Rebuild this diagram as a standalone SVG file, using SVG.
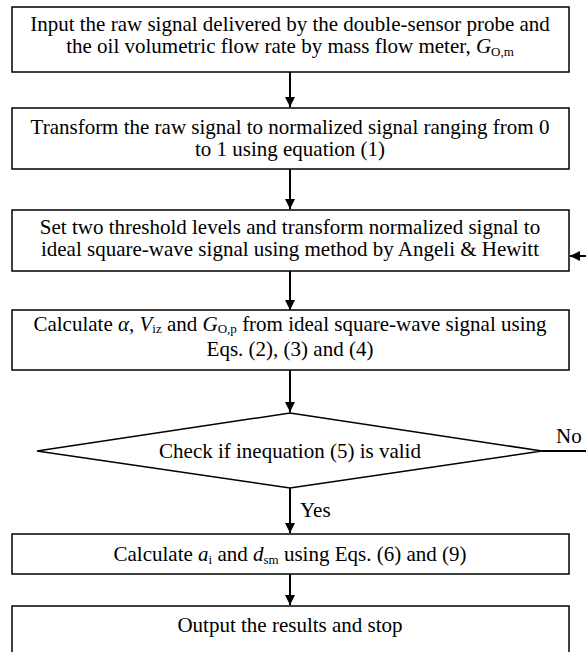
<svg xmlns="http://www.w3.org/2000/svg" width="586" height="652" viewBox="0 0 586 652">
<style>
.box{fill:#fff;stroke:#000;stroke-width:1.5}
.t{font-family:"Liberation Serif","Times New Roman",serif;font-size:21px;fill:#000}
.c{text-anchor:middle}
.i{font-style:italic}
.s{font-size:13px}
.con{stroke:#000;stroke-width:2;fill:none}
</style>
<defs>
<marker id="ah" viewBox="0 0 10 10" refX="10" refY="5" markerWidth="5.5" markerHeight="5" orient="auto" markerUnits="strokeWidth">
<path d="M0,0 L10,5 L0,10 Z" fill="#000"/>
</marker>
</defs>
<rect width="586" height="652" fill="#fff"/>
<g id="connectors">
<line class="con" x1="290" y1="72" x2="290" y2="107" marker-end="url(#ah)"/>
<line class="con" x1="290" y1="169" x2="290" y2="209" marker-end="url(#ah)"/>
<line class="con" x1="290" y1="271" x2="290" y2="310" marker-end="url(#ah)"/>
<line class="con" x1="290" y1="370" x2="290" y2="412" marker-end="url(#ah)"/>
<line class="con" x1="290" y1="488" x2="290" y2="533" marker-end="url(#ah)"/>
<line class="con" x1="290" y1="574" x2="290" y2="605" marker-end="url(#ah)"/>
<line class="con" x1="542" y1="451" x2="586" y2="451"/>
<line class="con" x1="586" y1="256" x2="570" y2="256" marker-end="url(#ah)"/>
<text class="t" x="300" y="517">Yes</text>
<text class="t" x="556" y="443">No</text>
</g>
<g id="n1">
<rect class="box" x="12" y="7" width="557" height="65"/>
<text class="t c" x="290" y="31">Input the raw signal delivered by the double-sensor probe and</text>
<text class="t c" x="290" y="53">the oil volumetric flow rate by mass flow meter, <tspan class="i">G</tspan><tspan class="s" dy="3">O,m</tspan></text>
</g>
<g id="n2">
<rect class="box" x="12" y="108" width="557" height="61"/>
<text class="t c" x="290" y="134">Transform the raw signal to normalized signal ranging from 0</text>
<text class="t c" x="290" y="156">to 1 using equation (1)</text>
</g>
<g id="n3">
<rect class="box" x="12" y="210" width="557" height="61"/>
<text class="t c" x="290" y="234">Set two threshold levels and transform normalized signal to</text>
<text class="t c" x="290" y="256">ideal square-wave signal using method by Angeli &amp; Hewitt</text>
</g>
<g id="n4">
<rect class="box" x="12" y="310" width="557" height="60"/>
<text class="t c" x="290" y="331">Calculate <tspan class="i">α</tspan>, <tspan class="i">V</tspan><tspan class="s" dy="2">iz</tspan><tspan dy="-2"> and </tspan><tspan class="i">G</tspan><tspan class="s" dy="2">O,p</tspan><tspan dy="-2"> from ideal square-wave signal using</tspan></text>
<text class="t c" x="290" y="356">Eqs. (2), (3) and (4)</text>
</g>
<g id="n5">
<polygon class="box" points="290,413 542,451 290,488 37,451"/>
<text class="t c" x="290" y="458">Check if inequation (5) is valid</text>
</g>
<g id="n6">
<rect class="box" x="12" y="534" width="557" height="40"/>
<text class="t c" x="290" y="561">Calculate  <tspan class="i">a</tspan><tspan class="s" dy="3">i</tspan><tspan dy="-3"> and </tspan><tspan class="i">d</tspan><tspan class="s" dy="3">sm</tspan><tspan dy="-3"> using Eqs. (6) and (9)</tspan></text>
</g>
<g id="n7">
<rect class="box" x="12" y="606" width="557" height="60"/>
<text class="t c" x="290" y="632">Output the results and stop</text>
</g>
</svg>
